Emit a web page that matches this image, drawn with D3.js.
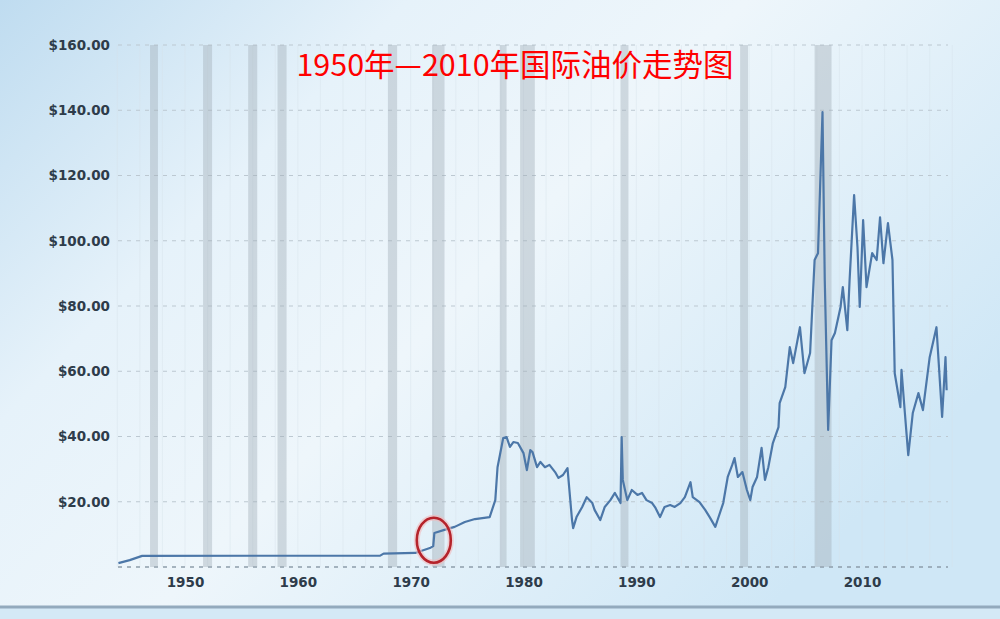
<!DOCTYPE html>
<html>
<head>
<meta charset="utf-8">
<script src="https://cdn.jsdelivr.net/npm/d3@7"></script>
<style>
  html, body { margin: 0; padding: 0; }
  svg { display: block; }
</style>
</head>
<body>
<svg width="1000" height="619"></svg>
<script>
// oil price (years as labelled on its axis)
const years = [1944.1, 1945.1, 1946.2, 1967.3, 1967.6, 1970.4, 1971.7, 1972.0, 1972.1, 1973.2, 1973.9, 1974.8, 1975.7, 1977.0,
  1977.5, 1977.7, 1978.2, 1978.5, 1978.8, 1979.1, 1979.5, 1980.0, 1980.3, 1980.6, 1980.8, 1981.2, 1981.5, 1981.9,
  1982.3, 1982.8, 1983.1, 1983.5, 1983.9, 1984.3, 1984.4, 1984.7, 1985.2, 1985.6, 1986.1, 1986.3, 1986.8, 1987.2,
  1987.7, 1988.1, 1988.6, 1988.7, 1988.8, 1989.2, 1989.6, 1990.1, 1990.5, 1990.9, 1991.4, 1991.7, 1992.1, 1992.5,
  1993.0, 1993.4, 1993.9, 1994.3, 1994.8, 1995.0, 1995.6, 1996.1, 1996.5, 1997.0, 1997.2, 1997.7, 1998.1, 1998.5,
  1998.7, 1999.0, 1999.4, 1999.8, 2000.1, 2000.3, 2000.7, 2001.1, 2001.4, 2001.7, 2002.1, 2002.6, 2002.7, 2003.2,
  2003.6, 2003.9, 2004.5, 2004.9, 2005.4, 2005.8, 2006.1, 2006.5, 2006.7, 2007.0, 2007.3, 2007.6, 2008.1, 2008.3,
  2008.7, 2008.9, 2009.3, 2009.6, 2009.8, 2010.1, 2010.4, 2010.9, 2011.3, 2011.6, 2011.9, 2012.3, 2012.7, 2012.9,
  2013.4, 2013.5, 2013.8, 2014.1, 2014.5, 2015.0, 2015.4, 2016.0, 2016.6, 2017.1, 2017.4, 2017.5];
const prices = [1.2, 2.1, 3.4, 3.5, 4.1, 4.3, 5.8, 6.4, 10.4, 11.6, 12.3, 13.8, 14.7, 15.3,
  20.5, 30.6, 39.5, 39.8, 36.8, 38.3, 38.0, 34.9, 29.7, 35.8, 35.2, 30.6, 32.2, 30.6,
  31.3, 29.1, 27.3, 28.2, 30.3, 14.4, 11.9, 15.3, 18.4, 21.4, 19.6, 17.5, 14.4, 18.4,
  20.5, 22.7, 19.6, 39.8, 26.7, 20.5, 23.6, 22.1, 22.7, 20.5, 19.6, 18.1, 15.3, 18.4,
  19.0, 18.4, 19.6, 21.4, 26.0, 21.4, 19.9, 17.5, 15.3, 12.3, 14.4, 19.6, 27.6, 31.3,
  33.4, 27.6, 29.1, 23.6, 20.5, 24.5, 27.6, 36.5, 26.7, 30.6, 38.0, 42.9, 50.2, 55.1,
  67.4, 62.5, 73.5, 59.4, 65.6, 94.1, 96.2, 139.4, 87.9, 42.0, 69.5, 71.7, 79.7, 85.8,
  72.6, 87.9, 114.0, 98.0, 79.7, 106.3, 85.8, 96.2, 94.1, 107.2, 93.1, 105.4, 94.1, 59.4,
  49.0, 60.4, 47.2, 34.3, 47.2, 53.3, 48.1, 64.3, 73.5, 46.0, 64.3, 54.2];

// grey shaded periods
const bandStart = [1946.9, 1951.6, 1955.6, 1958.2, 1968.0, 1971.9, 1977.9, 1979.7, 1988.6, 1999.2, 2005.8];
const bandEnd   = [1947.6, 1952.4, 1956.4, 1959.0, 1968.8, 1973.0, 1978.5, 1981.0, 1989.3, 1999.9, 2007.3];

const xTicks = [1950, 1960, 1970, 1980, 1990, 2000, 2010];
const yTicks = [20, 40, 60, 80, 100, 120, 140, 160];
const gridValues = [0, 20, 40, 60, 80, 100, 120, 140, 160];

const title = "1950年—2010年国际油价走势图";
const circledYear = 1972.05;
const circledPrice = 8.2;

const svg = d3.select("svg");
const W = 1000, H = 619;

const x = d3.scaleLinear().domain([1950, 2010]).range([185, 862]);
const y = d3.scaleLinear().domain([0, 160]).range([567, 45]);
const plotLeft = 118, plotRight = 948;

// background
const defs = svg.append("defs");
const bg = defs.append("linearGradient").attr("id", "bg")
    .attr("x1", "0").attr("y1", "0").attr("x2", "1").attr("y2", "0.6");
bg.append("stop").attr("offset", "0").attr("stop-color", "#bfdcf0");
bg.append("stop").attr("offset", "0.3").attr("stop-color", "#e6f2fa");
bg.append("stop").attr("offset", "0.55").attr("stop-color", "#eef6fb");
bg.append("stop").attr("offset", "1").attr("stop-color", "#cfe7f6");

svg.append("rect").attr("width", W).attr("height", H).attr("fill", "url(#bg)");
svg.append("rect").attr("x", 0).attr("y", 608).attr("width", W).attr("height", H - 608).attr("fill", "#d4e9f6");
svg.append("line")
    .attr("x1", 0).attr("x2", W).attr("y1", 607).attr("y2", 607)
    .attr("stroke", "#93aabd").attr("stroke-width", 3);

// faint vertical grid
svg.append("g").selectAll("line")
    .data(d3.range(1944, 2019, 2))
    .join("line")
    .attr("x1", d => x(d)).attr("x2", d => x(d))
    .attr("y1", y(160)).attr("y2", y(0))
    .attr("stroke", "#d6e2ea").attr("stroke-width", 1).attr("opacity", 0.4);

// horizontal dashed grid
svg.append("g").selectAll("line")
    .data(gridValues)
    .join("line")
    .attr("x1", plotLeft).attr("x2", plotRight)
    .attr("y1", d => y(d)).attr("y2", d => y(d))
    .attr("stroke", d => d === 0 ? "#8d9daa" : "#bcc8d1")
    .attr("stroke-width", d => d === 0 ? 1.5 : 1)
    .attr("stroke-dasharray", "4,5");

// shaded periods
svg.append("g").selectAll("rect")
    .data(bandStart.map((s, i) => [s, bandEnd[i]]))
    .join("rect")
    .attr("x", d => x(d[0]))
    .attr("width", d => x(d[1]) - x(d[0]))
    .attr("y", y(160))
    .attr("height", y(0) - y(160))
    .attr("fill", "#a3adb7")
    .attr("opacity", 0.42);

// axes
const xAxis = svg.append("g")
    .attr("transform", `translate(0,${y(0)})`)
    .call(d3.axisBottom(x).tickValues(xTicks).tickSize(0).tickPadding(10).tickFormat(d3.format("d")));
const yAxis = svg.append("g")
    .attr("transform", `translate(${plotLeft},0)`)
    .call(d3.axisLeft(y).tickValues(yTicks).tickSize(0).tickPadding(8).tickFormat(d => "$" + d.toFixed(2)));

[xAxis, yAxis].forEach(g => {
    g.select(".domain").remove();
    g.selectAll("text")
        .attr("fill", "#2e3c4a")
        .attr("font-family", "DejaVu Sans, Verdana, sans-serif")
        .attr("font-weight", "bold")
        .attr("font-size", 13.5);
});

// price line
const line = d3.line()
    .x((d, i) => x(years[i]))
    .y(d => y(d));

svg.append("path")
    .datum(prices)
    .attr("d", line)
    .attr("fill", "none")
    .attr("stroke", "#4c77a8")
    .attr("stroke-width", 2.2)
    .attr("stroke-linejoin", "round");

// red circle marker
svg.append("ellipse")
    .attr("cx", x(circledYear)).attr("cy", y(circledPrice))
    .attr("rx", 17).attr("ry", 22.5)
    .attr("fill", "none")
    .attr("stroke", "#f2b9bb").attr("stroke-width", 6).attr("opacity", 0.6);
svg.append("ellipse")
    .attr("cx", x(circledYear)).attr("cy", y(circledPrice))
    .attr("rx", 17).attr("ry", 22.5)
    .attr("fill", "none")
    .attr("stroke", "#b5232b").attr("stroke-width", 2.6);

// title
svg.append("text")
    .attr("x", 515).attr("y", 76)
    .attr("text-anchor", "middle")
    .attr("fill", "#ff0000")
    .attr("font-family", "Noto Sans CJK SC, sans-serif")
    .attr("font-size", 30.5)
    .text(title);
</script>
</body>
</html>
